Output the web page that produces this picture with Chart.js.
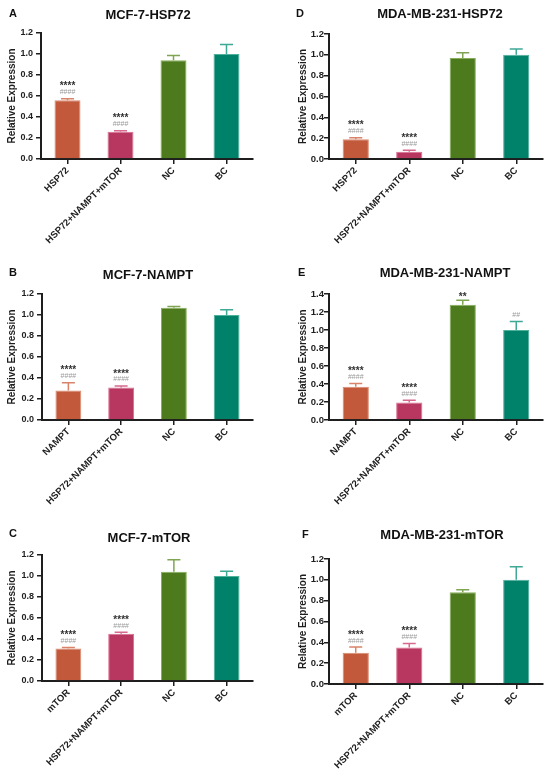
<!DOCTYPE html>
<html><head><meta charset="utf-8">
<script src="https://cdn.jsdelivr.net/npm/chart.js@4.4.1/dist/chart.umd.min.js"></script>
<style>
html,body{margin:0;padding:0;background:#fff;width:550px;height:776px;overflow:hidden}
canvas{position:absolute}
</style></head><body>
<canvas id="cA"></canvas><canvas id="cB"></canvas><canvas id="cC"></canvas>
<canvas id="cD"></canvas><canvas id="cE"></canvas><canvas id="cF"></canvas>
<script>
// ---- data ----
const panelLetters = ['A','B','C','D','E','F'];
const panelTitles = ['MCF-7-HSP72','MCF-7-NAMPT','MCF-7-mTOR','MDA-MB-231-HSP72','MDA-MB-231-NAMPT','MDA-MB-231-mTOR'];
const yAxisTitle = 'Relative Expression';
const catsHSP = ['HSP72','HSP72+NAMPT+mTOR','NC','BC'];
const catsNAMPT = ['NAMPT','HSP72+NAMPT+mTOR','NC','BC'];
const catsMTOR = ['mTOR','HSP72+NAMPT+mTOR','NC','BC'];
const valsA = [0.56, 0.26, 0.94, 1.00];  const errA = [0.015, 0.010, 0.045, 0.090];
const valsB = [0.28, 0.31, 1.07, 1.00];  const errB = [0.075, 0.015, 0.012, 0.050];
const valsC = [0.31, 0.45, 1.04, 1.00];  const errC = [0.010, 0.015, 0.115, 0.045];
const valsD = [0.19, 0.07, 0.97, 1.00];  const errD = [0.015, 0.013, 0.050, 0.055];
const valsE = [0.37, 0.195, 1.28, 1.00]; const errE = [0.035, 0.025, 0.050, 0.095];
const valsF = [0.30, 0.35, 0.88, 1.00];  const errF = [0.055, 0.040, 0.025, 0.125];
const starsStd = ['****','****','',''];  const hashStd = ['####','####','',''];
const starsE = ['****','****','**',''];  const hashE = ['####','####','','##'];
const yMaxes = [1.2, 1.2, 1.2, 1.2, 1.4, 1.2];
const yStep = 0.2;

// ---- styles ----
const FONT = '"Liberation Sans", Arial, sans-serif';
const barColors = ['#C2593B','#B73760','#4D7A1C','#00816A'];
const barBorders = ['#DA8A70','#D96F92','#86AE58','#4FB09C'];
const errColors = ['#D98468','#D56A8E','#7FA552','#3FA896'];
const INK = '#1e1e1e';

const panels = [
 {id:'cA', cats:catsHSP,   vals:valsA, errs:errA, stars:starsStd, hash:hashStd, left:0,   top:0,   w:275, h:250, padL:2,  yW:39, padT:33, padR:22, xH:91, tX:148, tY:15, lX:13, lY:14, tl:5, tp:3, tf:9},
 {id:'cB', cats:catsNAMPT, vals:valsB, errs:errB, stars:starsStd, hash:hashStd, left:0,   top:250, w:275, h:260, padL:2,  yW:40, padT:44, padR:22, xH:90, tX:148, tY:25, lX:13, lY:23, tl:5, tp:3, tf:9},
 {id:'cC', cats:catsMTOR,  vals:valsC, errs:errC, stars:starsStd, hash:hashStd, left:0,   top:510, w:275, h:266, padL:2,  yW:40, padT:45, padR:22, xH:95, tX:149, tY:28, lX:13, lY:24, tl:5, tp:3, tf:9},
 {id:'cD', cats:catsHSP,   vals:valsD, errs:errD, stars:starsStd, hash:hashStd, left:275, top:0,   w:275, h:250, padL:18, yW:36, padT:34, padR:7,  xH:91, tX:165, tY:14, lX:25, lY:14, tl:5, tp:0, tf:9.5},
 {id:'cE', cats:catsNAMPT, vals:valsE, errs:errE, stars:starsE,   hash:hashE,   left:275, top:250, w:275, h:260, padL:18, yW:36, padT:44, padR:7,  xH:90, tX:170, tY:23, lX:27, lY:23, tl:5, tp:0, tf:9.5},
 {id:'cF', cats:catsMTOR,  vals:valsF, errs:errF, stars:starsStd, hash:hashStd, left:275, top:510, w:275, h:266, padL:18, yW:36, padT:49, padR:7,  xH:92, tX:167, tY:25, lX:31, lY:25, tl:5, tp:0, tf:9.5}
];

Chart.defaults.font.family = FONT;
Chart.defaults.color = INK;

panels.forEach((p, k) => {
  const cv = document.getElementById(p.id);
  cv.width = p.w; cv.height = p.h;
  cv.style.left = p.left + 'px'; cv.style.top = p.top + 'px';
  cv.style.width = p.w + 'px'; cv.style.height = p.h + 'px';

  const deco = {
    id: 'deco' + k,
    afterDatasetsDraw(chart) {
      const ctx = chart.ctx, ys = chart.scales.y;
      const meta = chart.getDatasetMeta(0);
      meta.data.forEach((bar, i) => {
        const top = ys.getPixelForValue(p.vals[i] + p.errs[i]);
        ctx.save();
        ctx.strokeStyle = errColors[i]; ctx.lineWidth = 1.5;
        ctx.beginPath();
        ctx.moveTo(bar.x, bar.y); ctx.lineTo(bar.x, top);
        ctx.moveTo(bar.x - 6.5, top); ctx.lineTo(bar.x + 6.5, top);
        ctx.stroke();
        ctx.textAlign = 'center'; ctx.textBaseline = 'alphabetic';
        const hasHash = p.hash[i] !== '';
        if (hasHash) {
          ctx.fillStyle = '#9a9a9a'; ctx.font = '7px ' + FONT;
          ctx.fillText(p.hash[i], bar.x, top - 7 + 2.5);
        }
        if (p.stars[i] !== '') {
          ctx.fillStyle = '#333'; ctx.font = 'bold 10px ' + FONT;
          const c = hasHash ? top - 15 : top - 6;
          ctx.fillText(p.stars[i], bar.x, c + 5.7);
        }
        ctx.restore();
      });
    },
    afterDraw(chart) {
      const ctx = chart.ctx;
      ctx.save();
      ctx.fillStyle = '#111'; ctx.textBaseline = 'middle';
      ctx.textAlign = 'center'; ctx.font = 'bold 13px ' + FONT;
      ctx.fillText(panelTitles[k], p.tX, p.tY);
      ctx.textAlign = 'left'; ctx.font = 'bold 11px ' + FONT;
      ctx.fillText(panelLetters[k], p.lX - 4, p.lY);
      ctx.restore();
    }
  };

  new Chart(cv, {
    type: 'bar',
    data: {
      labels: p.cats,
      datasets: [{
        data: p.vals,
        backgroundColor: barColors,
        borderColor: barBorders,
        borderWidth: 1,
        barPercentage: 0.49,
        categoryPercentage: 1
      }]
    },
    options: {
      responsive: false,
      animation: false,
      layout: { padding: { left: p.padL, top: p.padT, right: p.padR, bottom: 0 } },
      plugins: { legend: { display: false }, tooltip: { enabled: false }, title: { display: false } },
      scales: {
        x: {
          type: 'category',
          offset: true,
          afterFit: s => { s.height = p.xH; },
          grid: { display: true, drawOnChartArea: false, drawTicks: true, tickLength: 5, offset: false, color: INK, lineWidth: 1.5 },
          border: { display: true, color: INK, width: 2 },
          ticks: { autoSkip: false, minRotation: 45, maxRotation: 45, padding: 1, color: INK, font: { size: 9.5, weight: 'bold' } }
        },
        y: {
          min: 0, max: yMaxes[k],
          afterFit: s => { s.width = p.yW; },
          grid: { display: true, drawOnChartArea: false, drawTicks: true, tickLength: p.tl, color: INK, lineWidth: 1.5 },
          border: { display: true, color: INK, width: 2 },
          ticks: { stepSize: yStep, padding: p.tp, color: INK, font: { size: p.tf, weight: 'bold' }, callback: v => Number(v).toFixed(1) },
          title: { display: true, text: yAxisTitle, color: INK, font: { size: 10, weight: 'bold' }, padding: { top: 4, bottom: 0 } }
        }
      }
    },
    plugins: [deco]
  });
});
</script>
</body></html>
